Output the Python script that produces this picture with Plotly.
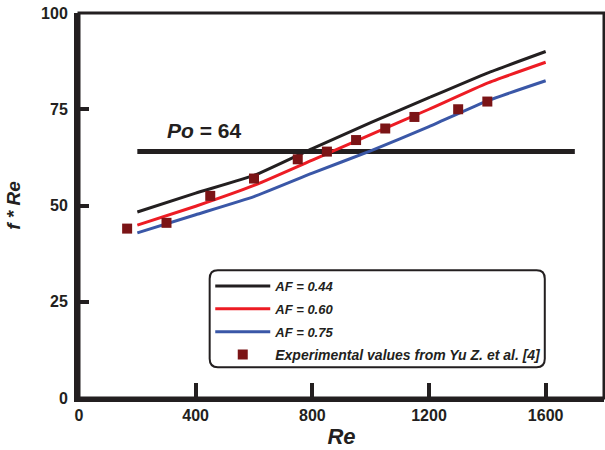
import plotly.graph_objects as go

re_model = [200, 400, 600, 800, 1000, 1200, 1400, 1600]
af044 = [48.3, 53.2, 57.8, 64.8, 71.5, 78.0, 84.4, 90.0]
af060 = [44.9, 49.8, 55.2, 61.8, 68.4, 75.0, 81.8, 87.2]
af075 = [42.9, 47.6, 52.3, 58.4, 64.2, 70.5, 77.2, 82.4]

re_exp = [165, 300, 450, 600, 750, 850, 950, 1050, 1150, 1300, 1400]
fre_exp = [44.0, 45.5, 52.5, 57.0, 62.0, 64.0, 67.0, 70.0, 73.0, 75.0, 77.0]

re_po = [200, 1700]
po_val = [64, 64]

y_ticks = [0, 25, 50, 75, 100]
y_long_ticks = [0, 50, 100]
x_minor_ticks = [200, 600, 1000, 1400]

BLACK = "#231f20"
RED = "#ed1c24"
BLUE = "#3a57a7"
MAROON = "#7b1416"
FONT = "Liberation Sans, Arial"

fig = go.Figure()

fig.add_trace(go.Scatter(x=re_po, y=po_val, mode="lines",
                         line=dict(color=BLACK, width=5), showlegend=False,
                         hoverinfo="skip"))
for name, vals, col in [("<i>AF = 0.44</i>", af044, BLACK),
                        ("<i>AF = 0.60</i>", af060, RED),
                        ("<i>AF = 0.75</i>", af075, BLUE)]:
    fig.add_trace(go.Scatter(x=re_model, y=vals, mode="lines", name=name,
                             legendgroup=name,
                             line=dict(color=col, width=3, shape="spline", smoothing=0.4)))
fig.add_trace(go.Scatter(x=re_exp, y=fre_exp, mode="markers",
                         name="<span style='font-size:14px'><i>Experimental values from Yu Z. et al. [4]</i></span>",
                         legendgroup="exp",
                         marker=dict(symbol="square", size=10, color=MAROON)))

# rounded legend frame
x0, x1, y0, y1 = 448, 1597, 8.0, 33.2
rx, ry = 28, 2.2
path = (f"M{x0+rx},{y0} L{x1-rx},{y0} Q{x1},{y0} {x1},{y0+ry} "
        f"L{x1},{y1-ry} Q{x1},{y1} {x1-rx},{y1} L{x0+rx},{y1} "
        f"Q{x0},{y1} {x0},{y1-ry} L{x0},{y0+ry} Q{x0},{y0} {x0+rx},{y0} Z")
fig.add_shape(type="path", path=path, xref="x", yref="y",
              line=dict(color=BLACK, width=2), fillcolor="white", layer="below")

# thin frame top/right
fig.add_shape(type="rect", xref="paper", yref="paper", x0=0, x1=1, y0=0, y1=1,
              line=dict(color=BLACK, width=3), layer="above")

fig.add_annotation(x=428, y=69.5, xref="x", yref="y", text="<i>Po</i> = 64",
                   showarrow=False, font=dict(family=FONT, size=21,
                                              color=BLACK, weight="bold"))

tickfont = dict(family=FONT, size=16, color=BLACK, weight="bold")
fig.update_layout(
    width=605, height=450,
    margin=dict(l=79, r=1, t=13, b=52, autoexpand=False),
    plot_bgcolor="white", paper_bgcolor="white",
    showlegend=True,
    legend=dict(x=0.25, y=0.33, xanchor="left", yanchor="top",
                bgcolor="rgba(0,0,0,0)", borderwidth=0, itemwidth=55,
                tracegroupgap=3,
                font=dict(family=FONT, size=13, color=BLACK, weight="bold")),
    xaxis=dict(range=[0, 1800], tickmode="linear", tick0=0, dtick=400,
               ticks="inside", ticklen=15,
               tickwidth=4, tickcolor=BLACK, showline=True, linewidth=4,
               linecolor=BLACK, showgrid=False, zeroline=False, tickfont=tickfont,
               automargin=True,
               title=dict(text="<i>Re</i>", standoff=6,
                          font=dict(family=FONT, size=22,
                                    color=BLACK, weight="bold"))),
    xaxis2=dict(range=[0, 1800], overlaying="x", side="bottom",
                tickvals=x_minor_ticks, ticks="inside", ticklen=8, tickwidth=4,
                tickcolor=BLACK, showticklabels=False, showgrid=False,
                zeroline=False, showline=False, automargin=False),
    yaxis=dict(range=[0, 100], tickvals=y_ticks, ticks="inside", ticklen=10,
               tickwidth=4, tickcolor=BLACK, showline=True, linewidth=5,
               linecolor=BLACK, showgrid=False, zeroline=False, tickfont=tickfont,
               automargin=True, ticklabelstandoff=3, ticklabeloverflow="allow",
               title=dict(text="<i>f * Re</i>", standoff=17,
                          font=dict(family=FONT, size=19,
                                    color=BLACK, weight="bold"))),
    yaxis2=dict(range=[0, 100], overlaying="y", side="left", tickvals=y_long_ticks,
                ticks="inside", ticklen=18, tickwidth=4, tickcolor=BLACK,
                showticklabels=False, showgrid=False, zeroline=False, showline=False,
                automargin=False),
)

fig.write_html("out.html", config={"displayModeBar": False},
               post_script="document.body.style.margin='0';")
